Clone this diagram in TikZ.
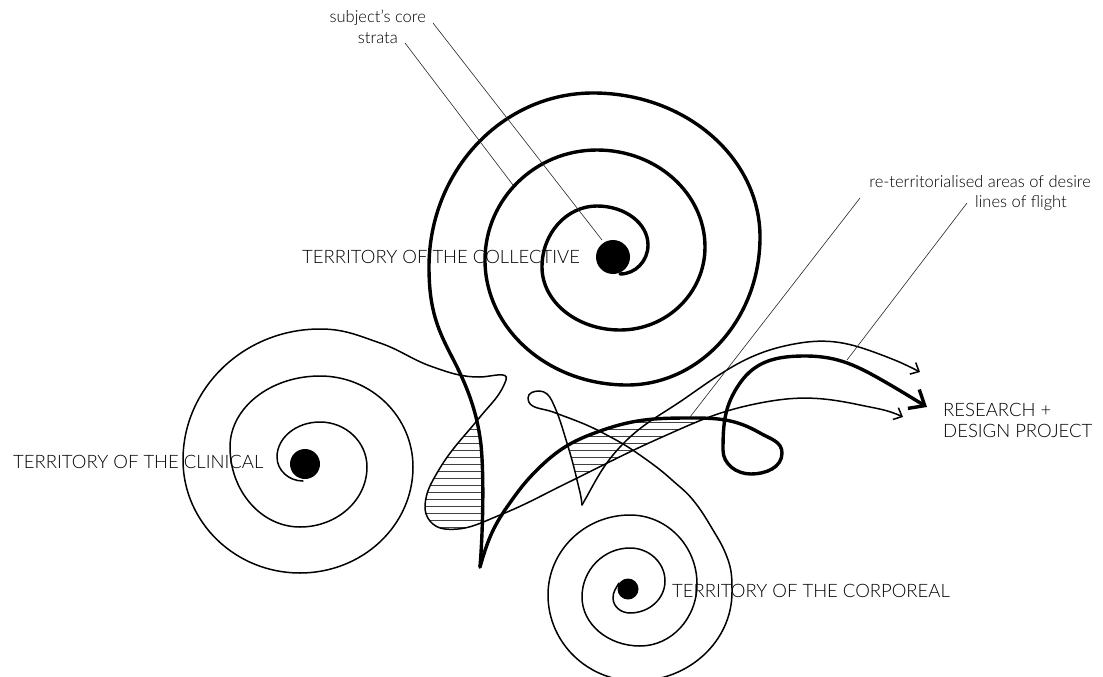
\documentclass[tikz,border=0pt]{standalone}
\usepackage{fontspec}
\IfFontExistsTF{Lato Light}{\setmainfont{Lato Light}}{\setmainfont{Lato}}
\usetikzlibrary{arrows.meta}
\begin{document}
\begin{tikzpicture}[x=1pt,y=-1pt,
  thickline/.style={line width=3.4pt, line cap=round, line join=round},
  thincurve/.style={line width=1.5pt, line cap=round, line join=round},
  leader/.style={line width=0.6pt, black!85},
  hatchline/.style={line width=0.6pt, black!75},
  biglabel/.style={font=\fontsize{18.5}{20}\selectfont, inner sep=0pt, anchor=base west},
  smalllabel/.style={font=\fontsize{16.5}{18}\selectfont, inner sep=0pt, anchor=base east},
  bigtip/.style={-{Straight Barb[length=13pt,width=22pt]}},
  smalltip/.style={-{Straight Barb[length=7pt,width=13pt]}}]
\useasboundingbox (0,0) rectangle (1103,677);

% hatching (left region)
\begin{scope}
\clip (476,408) -- (484,463) -- (484,540) -- (400,540) -- (400,408) -- cycle;
\clip (506,380) to[out=-110,in=51] (480,417) to[out=-129,in=60] (437,473) to[out=-120,in=85] (425,505) to[out=-95,in=-185] (445,529) to[out=-5,in=-158] (500,515) -- cycle;
\foreach \y in {422,429,...,530} \draw[hatchline] (400,\y) -- (500,\y);
\end{scope}
% hatching (right region)
\begin{scope}
\clip (540,467) to[out=44,in=-161] (603,430) to[out=19,in=-180] (693,418) to[out=0,in=150] (760,433) -- (760,600) -- (540,600) -- cycle;
\clip (500,515) to[out=22,in=-154] (567,483) to[out=26,in=-156] (660,438) to[out=24,in=-169] (760,403) -- (760,300) -- (500,300) -- cycle;
\clip (563,430) to[out=-73,in=103] (577,480) -- (577,520) -- (760,520) -- (760,400) -- (563,400) -- cycle;
\foreach \y in {422,429,...,485} \draw[hatchline] (550,\y) -- (720,\y);
\end{scope}

% dots
\fill (613,257) circle[radius=17];
\fill (305,464) circle[radius=15];
\fill (628,589) circle[radius=10.5];

% collective spiral (thick) down to the cusp
\draw[thickline] (620,274)
  arc[start angle=90,end angle=0,x radius=28,y radius=29]
  arc[start angle=0,end angle=-90,x radius=51,y radius=39]
  arc[start angle=-90,end angle=-180,x radius=55,y radius=61]
  arc[start angle=-180,end angle=-270,x radius=78,y radius=63]
  arc[start angle=90,end angle=0,x radius=85,y radius=83]
  arc[start angle=0,end angle=-90,x radius=108,y radius=97]
  arc[start angle=-90,end angle=-180,x radius=112,y radius=110]
  arc[start angle=-180,end angle=-270,x radius=142,y radius=125]
  arc[start angle=90,end angle=0,x radius=133,y radius=148]
  arc[start angle=0,end angle=-90,x radius=167,y radius=144]
  arc[start angle=-90,end angle=-180,x radius=164,y radius=174]
  .. controls (429,310) and (438,330) .. (452,357)
  .. controls (466,384) and (477,410) .. (481,445)
  .. controls (484,475) and (483,530) .. (480,567);
% thick line of flight
\draw[thickline, bigtip] (480,567) to[out=74,in=-125] (507,507) to[out=55,in=-136] (540,467)
  to[out=44,in=-161] (603,430) to[out=19,in=-180] (693,418) to[out=0,in=150] (760,433)
  to[out=-30,in=90] (782,453) to[out=-90,in=0] (751,474) to[out=-180,in=-90] (723,450)
  to[out=90,in=-125] (740,383) to[out=55,in=-180] (805,356) to[out=0,in=150] (887,383)
  to[out=-30,in=149] (927,407);

% clinical spiral and its line of flight
\draw[thincurve, smalltip] (303,481)
  arc[start angle=90,end angle=180,x radius=26,y radius=24]
  arc[start angle=180,end angle=270,x radius=43,y radius=35]
  arc[start angle=270,end angle=360,x radius=47,y radius=45]
  arc[start angle=0,end angle=90,x radius=67,y radius=60]
  arc[start angle=90,end angle=180,x radius=70,y radius=80]
  arc[start angle=180,end angle=270,x radius=90,y radius=71]
  arc[start angle=270,end angle=360,x radius=93,y radius=91]
  arc[start angle=0,end angle=90,x radius=113,y radius=106]
  arc[start angle=90,end angle=180,x radius=117,y radius=113]
  arc[start angle=180,end angle=270,x radius=137,y radius=131]
  to[out=0,in=-199] (380,343) to[out=-19,in=-199] (433,367) to[out=-19,in=-180] (480,377)
  to[out=0,in=70] (506,380) to[out=-110,in=51] (480,417) to[out=-129,in=60] (437,473)
  to[out=-120,in=85] (425,505) to[out=-95,in=-185] (445,529) to[out=-5,in=-158] (500,515)
  to[out=22,in=-154] (567,483) to[out=26,in=-156] (660,438) to[out=24,in=-169] (760,403)
  to[out=11,in=168] (860,405) to[out=-12,in=155] (903,417);

% corporeal spiral and its line of flight
\draw[thincurve] (619,583) to[out=-120,in=90] (613,598)
  arc[start angle=180,end angle=90,x radius=17,y radius=15]
  arc[start angle=90,end angle=0,x radius=35,y radius=32]
  arc[start angle=0,end angle=-90,x radius=35,y radius=33]
  arc[start angle=-90,end angle=-180,x radius=48,y radius=49]
  arc[start angle=180,end angle=90,x radius=58,y radius=49]
  arc[start angle=90,end angle=0,x radius=57,y radius=62]
  arc[start angle=0,end angle=-90,x radius=67,y radius=69]
  arc[start angle=-90,end angle=-180,x radius=82,y radius=80]
  arc[start angle=180,end angle=90,x radius=88,y radius=86]
  arc[start angle=90,end angle=0,x radius=96,y radius=89]
  to[out=90,in=-69] (727,557) to[out=111,in=-59] (713,530) to[out=121,in=-51] (693,500)
  to[out=129,in=-42] (672,480) to[out=138,in=-35] (637,453) to[out=145,in=-28] (603,433)
  to[out=152,in=-21] (553,412)
  to[out=159,in=-90] (528,398) to[out=90,in=-180] (539,391) to[out=0,in=115] (552,401)
  to[out=-65,in=107] (563,430) to[out=-73,in=103] (577,480) to[out=-77,in=95] (582,505);
\draw[thincurve, smalltip] (582,505) to[out=60,in=-133] (620,447) to[out=47,in=-145] (687,397)
  to[out=35,in=-171] (800,343) to[out=9,in=159] (887,357) to[out=-21,in=153] (920,372);

% labels
\node[smalllabel] (core) at (426,23) {subject’s core};
\node[smalllabel] (strata) at (398,44) {strata};
\node[smalllabel] (reterr) at (1091,187) {re-territorialised areas of desire};
\node[smalllabel] (flight) at (1067,207) {lines of flight};
\node[biglabel] (coll) at (302,263) {TERRITORY OF THE COLLECTIVE};
\node[biglabel] (clin) at (13,468) {TERRITORY OF THE CLINICAL};
\node[biglabel] (corp) at (672,597) {TERRITORY OF THE CORPOREAL};
\node[biglabel, align=left, anchor=north west, font=\fontsize{18.5}{21}\selectfont] (proj) at (943,403) {RESEARCH +\\DESIGN PROJECT};

% leader lines
\coordinate (coreA) at (433,23);  \coordinate (coreB) at (602,240);
\coordinate (strA) at (405,43);   \coordinate (strB) at (513,185);
\coordinate (retA) at (860,198);  \coordinate (retB) at (690,417);
\coordinate (flA) at (967,203);   \coordinate (flB) at (847,360);
\draw[leader] (coreA) -- (coreB);
\draw[leader] (strA) -- (strB);
\draw[leader] (retA) -- (retB);
\draw[leader] (flA) -- (flB);
\end{tikzpicture}
\end{document}
